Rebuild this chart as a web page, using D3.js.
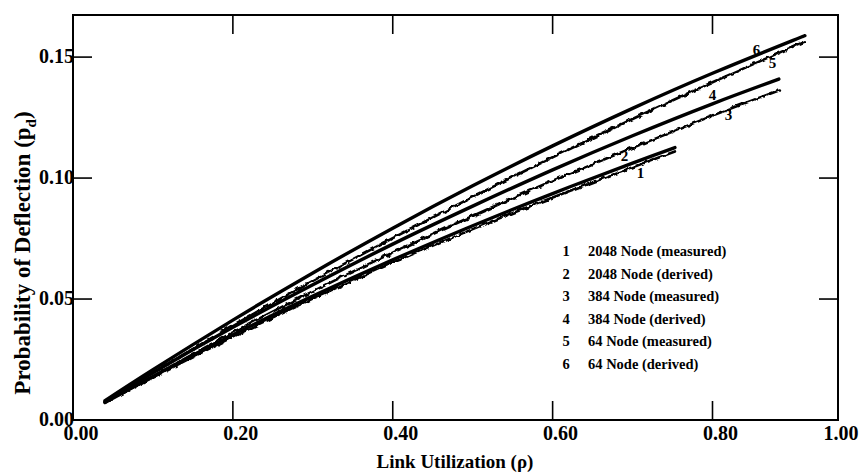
<!DOCTYPE html>
<html>
<head>
<meta charset="utf-8">
<script src="https://cdn.jsdelivr.net/npm/d3@7"></script>
<style>
  html, body { margin: 0; padding: 0; background: #fff; }
  svg { display: block; }
  text { font-family: "Liberation Serif", "DejaVu Serif", serif; fill: #000; }
</style>
</head>
<body>
<svg id="chart" width="864" height="475"></svg>
<script>
// Link utilization sample points for each network size
const util2048 = [0.04, 0.10, 0.20, 0.30, 0.40, 0.50, 0.60, 0.70, 0.753];
const util384  = [0.04, 0.10, 0.20, 0.30, 0.40, 0.50, 0.60, 0.70, 0.80, 0.883];
const util64   = [0.04, 0.10, 0.20, 0.30, 0.40, 0.50, 0.60, 0.70, 0.80, 0.90, 0.913];

// Probability of deflection
const p2048Measured = [0.0070, 0.0176, 0.0344, 0.0502, 0.0650, 0.0789, 0.0920, 0.1045, 0.1110];
const p2048Derived  = [0.0072, 0.0180, 0.0352, 0.0512, 0.0662, 0.0803, 0.0936, 0.1062, 0.1126];
const p384Measured  = [0.0070, 0.0180, 0.0362, 0.0532, 0.0692, 0.0843, 0.0989, 0.1125, 0.1258, 0.1362];
const p384Derived   = [0.0075, 0.0195, 0.0383, 0.0559, 0.0727, 0.0884, 0.1034, 0.1175, 0.1307, 0.1409];
const p64Measured   = [0.0075, 0.0195, 0.0390, 0.0575, 0.0752, 0.0922, 0.1086, 0.1244, 0.1396, 0.1542, 0.1561];
const p64Derived    = [0.0080, 0.0208, 0.0413, 0.0608, 0.0793, 0.0968, 0.1133, 0.1288, 0.1433, 0.1568, 0.1585];

const seriesIds    = [1, 2, 3, 4, 5, 6];
const seriesNames  = ["2048 Node (measured)", "2048 Node (derived)", "384 Node (measured)",
                      "384 Node (derived)", "64 Node (measured)", "64 Node (derived)"];
const seriesUtil   = [util2048, util2048, util384, util384, util64, util64];
const seriesProb   = [p2048Measured, p2048Derived, p384Measured, p384Derived, p64Measured, p64Derived];
const seriesKind   = ["measured", "derived", "measured", "derived", "measured", "derived"];

// Where each curve number sits along its curve
const labelUtil = [0.71, 0.69, 0.82, 0.80, 0.875, 0.855];

const xTicks = [0.0, 0.2, 0.4, 0.6, 0.8];
const xTickLabels = ["0.00", "0.20", "0.40", "0.60", "0.80"];
const xEndLabel = "1.00";
const yTicks = [0.00, 0.05, 0.10, 0.15];
const yTickLabels = ["0.00", "0.05", "0.10", "0.15"];

const svg = d3.select("#chart");
const plotLeft = 73, plotRight = 838, plotTop = 15, plotBottom = 420;

const x = d3.scaleLinear().domain([0, 0.957]).range([plotLeft, plotRight]);
const y = d3.scaleLinear().domain([0, 0.1674]).range([plotBottom, plotTop]);

// wobbly trace for measured curves
const defs = svg.append("defs");
const filt = defs.append("filter").attr("id", "wavy")
  .attr("filterUnits", "userSpaceOnUse")
  .attr("x", 0).attr("y", 0).attr("width", 864).attr("height", 475);
filt.append("feTurbulence").attr("type", "fractalNoise")
  .attr("baseFrequency", 0.16).attr("numOctaves", 2).attr("seed", 7).attr("result", "noise");
filt.append("feDisplacementMap").attr("in", "SourceGraphic").attr("in2", "noise")
  .attr("scale", 4.5).attr("xChannelSelector", "R").attr("yChannelSelector", "G");

// curves
const line = d3.line().x(d => x(d[0])).y(d => y(d[1])).curve(d3.curveNatural);
seriesIds.forEach((id, i) => {
  const pts = seriesUtil[i].map((u, k) => [u, seriesProb[i][k]]);
  const p = svg.append("path")
    .datum(pts)
    .attr("d", line)
    .attr("fill", "none")
    .attr("stroke", "#000")
    .attr("stroke-linecap", "round");
  if (seriesKind[i] === "measured") {
    p.attr("stroke-width", 2.6).attr("filter", "url(#wavy)");
  } else {
    p.attr("stroke-width", 3.4);
  }
});

// curve numbers
const labelDy = [14, -5, 10, -4, 12, 0];
const labelDx = [0, 0, 0, 0, 0, 0];
seriesIds.forEach((id, i) => {
  const us = seriesUtil[i], ps = seriesProb[i];
  const v = d3.scaleLinear().domain(us).range(ps)(labelUtil[i]);
  svg.append("text")
    .attr("x", x(labelUtil[i]) + labelDx[i])
    .attr("y", y(v) + labelDy[i])
    .attr("text-anchor", "middle")
    .attr("font-size", 15)
    .attr("font-weight", "bold")
    .text(id);
});

// frame
svg.append("rect")
  .attr("x", plotLeft).attr("y", plotTop)
  .attr("width", plotRight - plotLeft).attr("height", plotBottom - plotTop)
  .attr("fill", "none").attr("stroke", "#000").attr("stroke-width", 2);

// ticks (inward on all four sides)
const tickLen = 19;
xTicks.forEach(t => {
  svg.append("line").attr("x1", x(t)).attr("x2", x(t)).attr("y1", plotBottom).attr("y2", plotBottom - tickLen)
    .attr("stroke", "#000").attr("stroke-width", 1.6);
  svg.append("line").attr("x1", x(t)).attr("x2", x(t)).attr("y1", plotTop).attr("y2", plotTop + tickLen)
    .attr("stroke", "#000").attr("stroke-width", 1.6);
});
yTicks.forEach(t => {
  svg.append("line").attr("x1", plotLeft).attr("x2", plotLeft + tickLen).attr("y1", y(t)).attr("y2", y(t))
    .attr("stroke", "#000").attr("stroke-width", 1.6);
  svg.append("line").attr("x1", plotRight).attr("x2", plotRight - tickLen).attr("y1", y(t)).attr("y2", y(t))
    .attr("stroke", "#000").attr("stroke-width", 1.6);
});

// tick labels
xTicks.forEach((t, i) => {
  svg.append("text")
    .attr("x", x(t) + 8).attr("y", 440)
    .attr("text-anchor", "middle")
    .attr("font-size", 20).attr("font-weight", "bold")
    .text(xTickLabels[i]);
});
svg.append("text")
  .attr("x", plotRight + 3).attr("y", 440)
  .attr("text-anchor", "middle")
  .attr("font-size", 20).attr("font-weight", "bold")
  .text(xEndLabel);

yTicks.forEach((t, i) => {
  svg.append("text")
    .attr("x", plotLeft + 1).attr("y", y(t) - 1).attr("dy", "0.34em")
    .attr("text-anchor", "end")
    .attr("font-size", 20).attr("font-weight", "bold")
    .text(yTickLabels[i]);
});

// axis titles
svg.append("text")
  .attr("x", 455).attr("y", 468)
  .attr("text-anchor", "middle")
  .attr("font-size", 19).attr("font-weight", "bold")
  .text("Link Utilization (\u03C1)");

const yTitle = svg.append("text")
  .attr("transform", "translate(30,253) rotate(-90)")
  .attr("text-anchor", "middle")
  .attr("font-size", 23).attr("font-weight", "bold");
yTitle.append("tspan").text("Probability of Deflection (p");
yTitle.append("tspan").attr("font-size", 15).attr("dy", 6).text("d");
yTitle.append("tspan").attr("dy", -6).text(")");

// legend
const legTop = 251, legStep = 22.6;
seriesIds.forEach((id, i) => {
  const g = svg.append("g").attr("transform", `translate(0,${legTop + i * legStep})`);
  g.append("text").attr("x", 566).attr("dy", "0.35em")
    .attr("text-anchor", "middle")
    .attr("font-size", 14.5).attr("font-weight", "bold").text(id);
  g.append("text").attr("x", 588).attr("dy", "0.35em")
    .attr("font-size", 14.5).attr("font-weight", "bold").text(seriesNames[i]);
});
</script>
</body>
</html>
